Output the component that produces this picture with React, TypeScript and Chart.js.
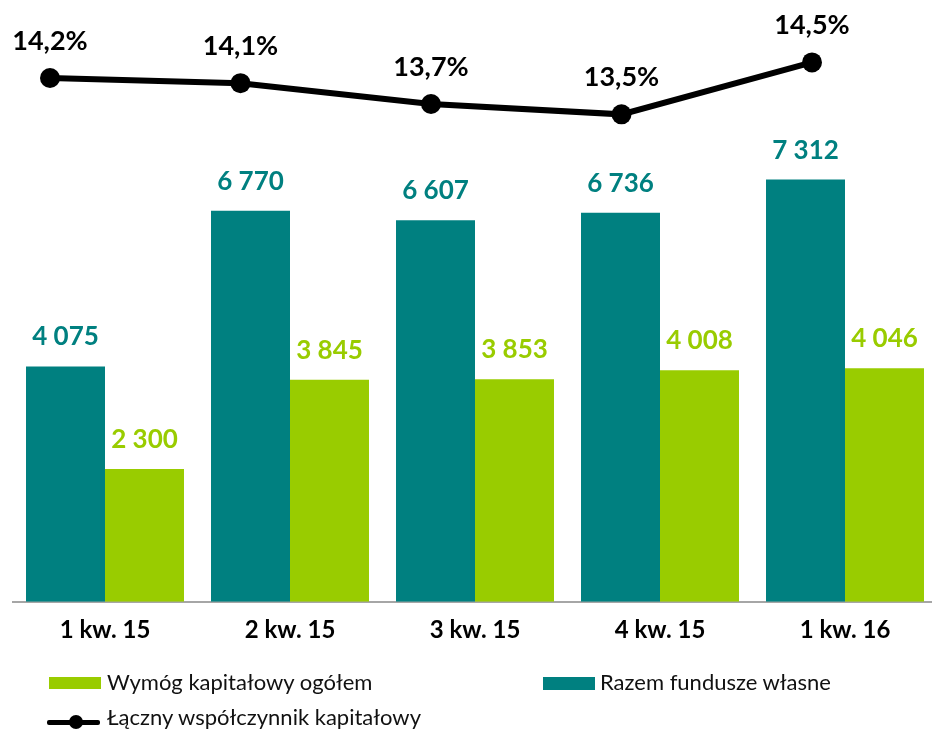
import React, { useEffect, useRef } from "react";
import { Chart, registerables } from "chart.js";

Chart.register(...registerables);

const categories = ["1 kw. 15", "2 kw. 15", "3 kw. 15", "4 kw. 15", "1 kw. 16"];
const ownFunds = [4075, 6770, 6607, 6736, 7312];
const capitalRequirement = [2300, 3845, 3853, 4008, 4046];
const capitalRatio = [14.2, 14.1, 13.7, 13.5, 14.5];
const legendLabels = [
  "Wymóg kapitałowy ogółem",
  "Razem fundusze własne",
  "Łączny współczynnik kapitałowy",
];

const TEAL = "#008080";
const GREEN = "#99CC00";
const FONT = "Lato, 'Open Sans', sans-serif";

const fmtNum = (v: number) => String(v).replace(/\B(?=(\d{3})+(?!\d))/g, " ");
const fmtPct = (v: number) => v.toFixed(1).replace(".", ",") + "%";

const barLabelPlugin = {
  id: "barLabels",
  afterDatasetsDraw(chart: any) {
    const ctx = chart.ctx;
    ctx.save();
    ctx.textAlign = "center";
    ctx.textBaseline = "alphabetic";
    ctx.font = `bold 26px ${FONT}`;
    chart.data.datasets.forEach((ds: any, di: number) => {
      const meta = chart.getDatasetMeta(di);
      meta.data.forEach((el: any, i: number) => {
        ctx.fillStyle = ds.backgroundColor;
        ctx.fillText(fmtNum(ds.data[i]), el.x, el.y - 21);
      });
    });
    ctx.restore();
  },
};

const lineLabelPlugin = {
  id: "lineLabels",
  afterDatasetsDraw(chart: any) {
    const ctx = chart.ctx;
    ctx.save();
    ctx.textAlign = "center";
    ctx.textBaseline = "alphabetic";
    ctx.font = `bold 27px ${FONT}`;
    ctx.fillStyle = "#000";
    chart.data.datasets.forEach((ds: any, di: number) => {
      const meta = chart.getDatasetMeta(di);
      meta.data.forEach((el: any, i: number) => {
        ctx.fillText(fmtPct(ds.data[i]), el.x, el.y - 28);
      });
    });
    ctx.restore();
  },
};

export default function App() {
  const barRef = useRef<HTMLCanvasElement | null>(null);
  const lineRef = useRef<HTMLCanvasElement | null>(null);

  useEffect(() => {
    if (!barRef.current || !lineRef.current) return;
    const barChart = new Chart(barRef.current, {
      type: "bar",
      data: {
        labels: categories,
        datasets: [
          {
            label: legendLabels[1],
            data: ownFunds,
            backgroundColor: TEAL,
            barPercentage: 1,
            categoryPercentage: 0.854,
          },
          {
            label: legendLabels[0],
            data: capitalRequirement,
            backgroundColor: GREEN,
            barPercentage: 1,
            categoryPercentage: 0.854,
          },
        ],
      },
      options: {
        animation: false,
        responsive: false,
        maintainAspectRatio: false,
        layout: { autoPadding: false, padding: { left: 12.5, right: 2.5, top: 0, bottom: 72.4 } },
        plugins: {
          legend: { display: false },
          tooltip: { enabled: false },
        },
        scales: {
          x: {
            type: "category",
            offset: true,
            grid: { display: false, drawTicks: false },
            border: { display: true, color: "#a6a6a6", width: 2 },
            ticks: {
              color: "#000",
              font: { family: FONT, size: 24, weight: "bold" },
              padding: 14,
            },
          },
          y: {
            display: false,
            min: 0,
            max: 10420,
          },
        },
      } as any,
      plugins: [barLabelPlugin],
    });

    const lineChart = new Chart(lineRef.current, {
      type: "line",
      data: {
        labels: categories,
        datasets: [
          {
            label: legendLabels[2],
            data: capitalRatio,
            borderColor: "#000",
            backgroundColor: "#000",
            borderWidth: 6,
            pointRadius: 10,
            pointBackgroundColor: "#000",
            pointBorderColor: "#000",
            pointBorderWidth: 0,
            tension: 0,
            clip: false,
          } as any,
        ],
      },
      options: {
        animation: false,
        responsive: false,
        maintainAspectRatio: false,
        layout: { autoPadding: false, padding: { left: 50, right: 120, top: 0, bottom: 128 } },
        plugins: {
          legend: { display: false },
          tooltip: { enabled: false },
        },
        scales: {
          x: { type: "category", offset: false, display: false },
          y: { display: false, min: 4.1, max: 15.7 },
        },
      } as any,
      plugins: [lineLabelPlugin],
    });

    return () => {
      barChart.destroy();
      lineChart.destroy();
    };
  }, []);

  const legendText: React.CSSProperties = {
    position: "absolute",
    fontFamily: FONT,
    fontSize: 22,
    color: "#111",
    lineHeight: "24px",
    whiteSpace: "nowrap",
  };

  return (
    <div
      style={{
        position: "absolute",
        left: 0,
        top: 0,
        width: 932,
        height: 731,
        overflow: "hidden",
        background: "#fff",
      }}
    >
      <canvas ref={barRef} width={940} height={731} style={{ display: "block", width: 940, height: 731 }} />
      <canvas
        ref={lineRef}
        width={932}
        height={731}
        style={{ position: "absolute", left: 0, top: 0, width: 932, height: 731, pointerEvents: "none" }}
      />
      <div style={{ position: "absolute", left: 49, top: 677, width: 52, height: 12, background: GREEN }} />
      <div style={{ ...legendText, left: 107, top: 669.5 }}>{legendLabels[0]}</div>
      <div style={{ position: "absolute", left: 543, top: 677, width: 52, height: 13, background: TEAL }} />
      <div style={{ ...legendText, left: 600, top: 669.5 }}>{legendLabels[1]}</div>
      <div style={{ position: "absolute", left: 47, top: 719.5, width: 53, height: 5, background: "#000", borderRadius: 2 }} />
      <div style={{ position: "absolute", left: 69, top: 715, width: 14, height: 14, background: "#000", borderRadius: 7 }} />
      <div style={{ ...legendText, left: 107, top: 704.5 }}>{legendLabels[2]}</div>
    </div>
  );
}
